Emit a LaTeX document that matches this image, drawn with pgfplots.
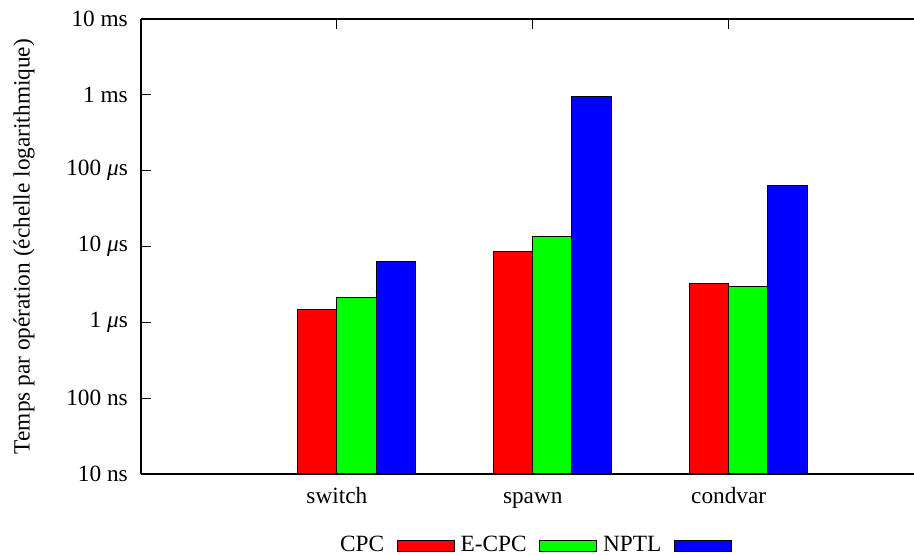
\documentclass[border=0pt]{standalone}
\usepackage{pgfplots}
\pgfplotsset{compat=1.18}
\usepackage{fontspec}
\setmainfont{Liberation Serif}
\pgfplotsset{mylegend/.style={legend image code/.code={\draw[##1,draw=black,line width=0.5pt] (0pt,-2.75pt) rectangle (28.5pt,2.75pt);}}}
\begin{document}
\fontsize{11.65}{14}\selectfont
\begin{tikzpicture}
\useasboundingbox (-70.5pt,-40.5pt) rectangle (386.5pt,237pt);
\begin{axis}[
  at={(0,0)}, anchor=south west,
  scale only axis, width=386.5pt, height=227.5pt,
  ymode=log, log origin=infty,
  ymin=0.01, ymax=10000,
  xmin=-1, xmax=2.946,
  axis y line*=left,
  y axis line style={-},
  axis line style={line width=0.6pt},
  tick align=inside,
  major tick length=5pt,
  minor tick num=0,
  every tick/.style={black, line width=0.6pt},
  ytick={0.01,0.1,1,10,100,1000,10000},
  yticklabels={10 ns,100 ns,1 \textit{μ}s,10 \textit{μ}s,100 \textit{μ}s,1 ms,10 ms},
  yminorticks=false,
  xtick={0,1,2},
  xticklabels={switch,spawn,condvar},
  xtick pos=both,
  tick label style={font=\fontsize{11.65}{14}\selectfont},
  yticklabel style={xshift=-2.5pt},
  xticklabel style={anchor=base, yshift=-15pt},
  every axis y label/.style={at={(axis description cs:0,0.5)}, xshift=-58.5pt, rotate=90, anchor=center, font=\fontsize{11.65}{14}\selectfont},
  ylabel={Temps par opération (échelle logarithmique)},
  legend columns=3,
  legend plot pos=right,
  legend style={draw=none, fill=none, at={(0.5084,-0.1582)}, anchor=center,
    font=\fontsize{11.65}{14}\selectfont,
    /tikz/every odd column/.append style={column sep=4.25pt},
    /tikz/every even column/.append style={column sep=1pt}},
]
\addplot[ybar, bar width=0.2, bar shift=0pt, fill=red, draw=black, line width=0.5pt, mylegend]
  coordinates {(-0.1,1.49) (0.9,8.49) (1.9,3.24)};
\addlegendentry{CPC}
\addplot[ybar, bar width=0.2, bar shift=0pt, fill=green, draw=black, line width=0.5pt, mylegend]
  coordinates {(0.1,2.12) (1.1,13.5) (2.1,2.96)};
\addlegendentry{E-CPC}
\addplot[ybar, bar width=0.2, bar shift=0pt, fill=blue, draw=black, line width=0.5pt, mylegend]
  coordinates {(0.3,6.26) (1.3,942) (2.3,63.6)};
\addlegendentry{NPTL}
\end{axis}
\end{tikzpicture}
\end{document}
